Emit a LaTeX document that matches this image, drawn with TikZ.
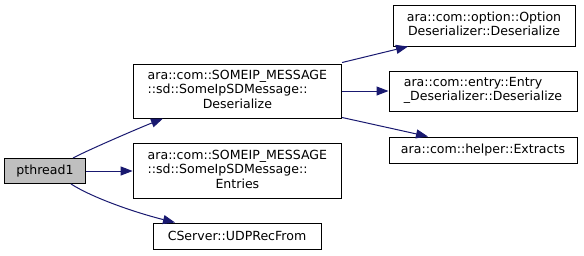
\documentclass[tikz,border=0pt]{standalone}
\usepackage{fontspec}
\setmainfont{DejaVu Sans}
\usetikzlibrary{arrows.meta}
\definecolor{edgeblue}{HTML}{191970}
\definecolor{rootfill}{HTML}{BFBFBF}
% multi-line labels: leading lines left-aligned, last line centred
\newcommand\fnlinestwo[2]{\begin{tabular}{@{}l@{}}#1\\\multicolumn{1}{@{}c@{}}{#2}\end{tabular}}
\newcommand\fnlinesthree[3]{\begin{tabular}{@{}l@{}}#1\\#2\\\multicolumn{1}{@{}c@{}}{#3}\end{tabular}}
\begin{document}
\begin{tikzpicture}[x=1bp,y=-1bp,
  fn/.style={draw=black, line width=1bp, fill=white, inner sep=0pt,
    font=\fontsize{12.6}{14.3}\selectfont},
  root/.style={fn, fill=rootfill},
  call/.style={draw=edgeblue, line width=1bp,
    -{Triangle[length=12bp,width=9bp]}}]
\useasboundingbox (0,0) rectangle (584,255);

% functions
\node[root, minimum width=80bp, minimum height=25bp] (p) at (45,171) {pthread1};
\node[fn, minimum width=208.5bp, minimum height=54bp] (a) at (237.4,91)
  {\fnlinesthree{ara::com::SOMEIP\_MESSAGE}{::sd::SomeIpSDMessage::}{Deserialize}};
\node[fn, minimum width=208.5bp, minimum height=55bp] (b) at (237.4,171)
  {\fnlinesthree{ara::com::SOMEIP\_MESSAGE}{::sd::SomeIpSDMessage::}{Entries}};
\node[fn, minimum width=168bp, minimum height=26bp] (c) at (237,236) {CServer::UDPRecFrom};
\node[fn, minimum width=182bp, minimum height=41bp] (d) at (484,25.5)
  {\fnlinestwo{ara::com::option::Option}{Deserializer::Deserialize}};
\node[fn, minimum width=188bp, minimum height=40bp] (e) at (483,91)
  {\fnlinestwo{ara::com::entry::Entry}{\_Deserializer::Deserialize}};
\node[fn, minimum width=188bp, minimum height=26bp] (f) at (483,150) {ara::com::helper::Extracts};

% calls
\draw[call] ([xshift=28bp]p.north) .. controls +(15,-8) and +(-25,10) .. ([xshift=-74.4bp]a.south);
\draw[call] (p.east) -- (b.west);
\draw[call] ([xshift=26bp]p.south) .. controls +(22,14) and +(-40,-10) .. ([xshift=-62bp]c.north);
\draw[call] ([yshift=1bp]a.north east) -- ([xshift=-76bp]d.south);
\draw[call] (a.east) -- (e.west);
\draw[call] ([yshift=1bp]a.south east) -- ([xshift=-55bp]f.north);
\end{tikzpicture}
\end{document}
